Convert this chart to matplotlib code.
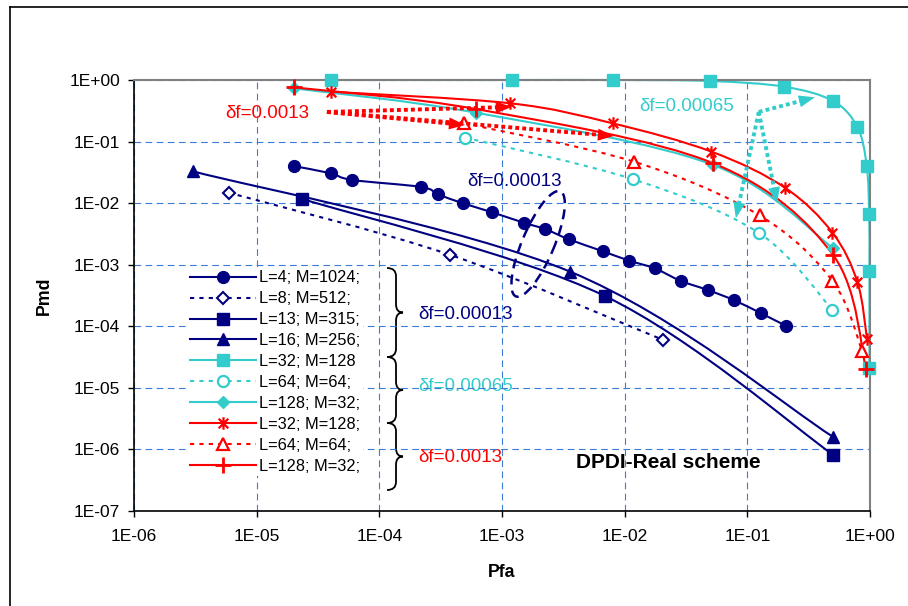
import matplotlib
matplotlib.use("Agg")
import matplotlib.pyplot as plt
import numpy as np
from matplotlib.lines import Line2D
from matplotlib.path import Path
from matplotlib.patches import PathPatch, Ellipse, Polygon
from matplotlib.ticker import FuncFormatter, NullLocator
from matplotlib.transforms import ScaledTranslation, IdentityTransform

plt.rcParams["font.family"] = ["Liberation Sans", "DejaVu Sans"]

NAVY = "#000080"
CYAN = "#33CCCC"
RED = "#FF0000"
GRID = "#3a7bd5"

# df = 0.00013
pfa_l4 = [2.0e-5, 4.0e-5, 6.0e-5, 2.2e-4, 3.0e-4, 4.8e-4, 8.3e-4, 1.5e-3, 2.26e-3,
          3.5e-3, 6.6e-3, 1.08e-2, 1.76e-2, 2.87e-2, 4.8e-2, 7.8e-2, 1.29e-1, 2.08e-1]
pmd_l4 = [4.0e-2, 3.06e-2, 2.38e-2, 1.83e-2, 1.39e-2, 9.96e-3, 7.11e-3, 4.82e-3, 3.77e-3,
          2.59e-3, 1.66e-3, 1.17e-3, 8.7e-4, 5.46e-4, 3.86e-4, 2.65e-4, 1.63e-4, 1.01e-4]
pfa_l8 = [5.9e-6, 3.8e-4, 2.06e-2]
pmd_l8 = [1.48e-2, 1.44e-3, 6.0e-5]
pfa_l13 = [2.33e-5, 6.9e-3, 0.5]
pmd_l13 = [1.18e-2, 3.1e-4, 8.2e-7]
pfa_l16 = [3.0e-6, 3.6e-3, 0.5]
pmd_l16 = [3.3e-2, 7.7e-4, 1.6e-6]

# df = 0.00065
pfa_c32 = [4.0e-5, 1.2e-3, 8.0e-3, 5.0e-2, 0.2, 0.5, 0.79, 0.94, 0.985, 0.99, 0.99]
pmd_c32 = [1.0, 1.0, 1.0, 0.963, 0.778, 0.456, 0.171, 0.0406, 6.7e-3, 7.8e-4, 2.07e-5]
pfa_c64 = [5.0e-4, 1.17e-2, 0.125, 0.494]
pmd_c64 = [0.116, 0.0244, 3.25e-3, 1.85e-4]
pfa_c128 = [2.0e-5, 6.1e-4, 5.26e-2, 0.5]
pmd_c128 = [0.733, 0.295, 0.0417, 1.86e-3]

# df = 0.0013
pfa_r32 = [4.0e-5, 1.16e-3, 7.96e-3, 5.1e-2, 0.202, 0.494, 0.79, 0.946]
pmd_r32 = [0.646, 0.419, 0.198, 0.0686, 0.0179, 3.32e-3, 5.2e-4, 6.2e-5]
pfa_r64 = [4.9e-4, 1.19e-2, 0.126, 0.494, 0.867]
pmd_r64 = [0.198, 0.0472, 6.3e-3, 5.46e-4, 3.9e-5]
pfa_r128 = [2.0e-5, 6.1e-4, 5.26e-2, 0.5, 0.93]
pmd_r128 = [0.76, 0.338, 0.0445, 1.44e-3, 2.0e-5]

labels = ["L=4; M=1024;", "L=8; M=512;", "L=13; M=315;", "L=16; M=256;",
          "L=32; M=128", "L=64; M=64;", "L=128; M=32;",
          "L=32; M=128;", "L=64; M=64;", "L=128; M=32;"]

# six-armed star (x plus vertical bar)
STAR = Path([(-1, -1), (1, 1), (-1, 1), (1, -1), (0, -1.3), (0, 1.3)],
            [Path.MOVETO, Path.LINETO] * 3)

DOTS = (0, (2, 2.5))

series = [
    (pfa_l4, pmd_l4, NAVY, "-", dict(marker="o", ms=8.5, mfc=NAVY, mec=NAVY)),
    (pfa_l8, pmd_l8, NAVY, DOTS, dict(marker="D", ms=6, mfc="white", mec=NAVY, mew=1.5)),
    (pfa_l13, pmd_l13, NAVY, "-", dict(marker="s", ms=8.5, mfc=NAVY, mec=NAVY)),
    (pfa_l16, pmd_l16, NAVY, "-", dict(marker="^", ms=9, mfc=NAVY, mec=NAVY)),
    (pfa_c32, pmd_c32, CYAN, "-", dict(marker="s", ms=9, mfc=CYAN, mec=CYAN)),
    (pfa_c64, pmd_c64, CYAN, DOTS, dict(marker="o", ms=8, mfc="white", mec=CYAN, mew=1.6)),
    (pfa_c128, pmd_c128, CYAN, "-", dict(marker="D", ms=6.5, mfc=CYAN, mec=CYAN)),
    (pfa_r32, pmd_r32, RED, "-", dict(marker=STAR, ms=9, mfc=RED, mec=RED, mew=1.6)),
    (pfa_r64, pmd_r64, RED, DOTS, dict(marker="^", ms=8.5, mfc="white", mec=RED, mew=1.6)),
    (pfa_r128, pmd_r128, RED, "-", dict(marker="+", ms=11, mfc=RED, mec=RED, mew=2)),
]


def smooth_path(xs, ys):
    """Cubic Bezier through the points (Catmull-Rom in log-log space)."""
    pts = np.column_stack([np.log10(xs), np.log10(ys)])
    n = len(pts)
    verts = [pts[0]]
    codes = [Path.MOVETO]
    for i in range(n - 1):
        p0 = pts[i - 1] if i > 0 else pts[i]
        p1, p2 = pts[i], pts[i + 1]
        p3 = pts[i + 2] if i + 2 < n else pts[i + 1]
        verts += [p1 + (p2 - p0) / 6.0, p2 - (p3 - p1) / 6.0, p2]
        codes += [Path.CURVE4] * 3
    return Path(10.0 ** np.array(verts), codes)


def brace(ax, y_top, y_bot, x0=0.3438, xm=0.356, x1=0.3655, r=0.019):
    ym = 0.5 * (y_top + y_bot)
    verts = [(x0, y_top), (xm, y_top), (xm, y_top - r),
             (xm, ym + r), (xm, ym), (x1, ym),
             (xm, ym), (xm, ym - r),
             (xm, y_bot + r), (xm, y_bot), (x0, y_bot)]
    codes = [Path.MOVETO, Path.CURVE3, Path.CURVE3,
             Path.LINETO, Path.CURVE3, Path.CURVE3,
             Path.CURVE3, Path.CURVE3,
             Path.LINETO, Path.CURVE3, Path.CURVE3]
    ax.add_patch(PathPatch(Path(verts, codes), fill=False, edgecolor="black",
                           lw=1.3, transform=ax.transAxes, zorder=1))


def dotted_arrow(ax, start, end, color, head_len=16, head_half=6):
    # dotted shaft in data space, solid head built in pixel space
    p0 = ax.transData.transform(start)
    p1 = ax.transData.transform(end)
    d = (p1 - p0) / np.hypot(*(p1 - p0))
    n = np.array([-d[1], d[0]])
    base = p1 - d * head_len
    bx, by = ax.transData.inverted().transform(base + d * 2)
    ax.plot([start[0], bx], [start[1], by], color=color, lw=2.8,
            linestyle=(0, (1, 0.8)), solid_capstyle="butt", zorder=4)
    ax.add_patch(Polygon([p1, base + n * head_half, base - n * head_half], closed=True,
                         facecolor=color, edgecolor="none",
                         transform=IdentityTransform(), zorder=4))


fig = plt.figure(figsize=(9.08, 6.06), dpi=100)
ax = fig.add_axes([134 / 908, 1 - 511 / 606, 736 / 908, 431 / 606])
ax.set_xscale("log")
ax.set_yscale("log")
ax.set_xlim(1e-6, 1.0)
ax.set_ylim(1e-7, 1.0)

handles = []
for (xs, ys, color, ls, mk), label in zip(series, labels):
    ax.add_patch(PathPatch(smooth_path(xs, ys), fill=False, edgecolor=color,
                           lw=1.5, linestyle=ls, zorder=2, clip_on=(color != CYAN or ls != "-")))
    ax.plot(xs, ys, linestyle="none", zorder=3, clip_on=False, **mk)
    handles.append(Line2D([], [], color=color, lw=1.5, linestyle=ls, **mk))

ax.set_xticks([10.0 ** e for e in range(-6, 1)])
ax.set_yticks([10.0 ** e for e in range(-7, 1)])
ax.xaxis.set_minor_locator(NullLocator())
ax.yaxis.set_minor_locator(NullLocator())
fmt = FuncFormatter(lambda v, pos: f"1E{int(round(np.log10(v))):+03d}")
ax.xaxis.set_major_formatter(fmt)
ax.yaxis.set_major_formatter(fmt)
ax.tick_params(axis="both", direction="out", length=4, width=1, labelsize=12.5)
ax.tick_params(axis="x", pad=9)
ax.tick_params(axis="y", pad=6)

ax.set_axisbelow("line")
ax.grid(True, which="major", color=GRID, linestyle=(0, (6, 4)), lw=0.8)

for side in ("left", "bottom"):
    ax.spines[side].set_color("black")
    ax.spines[side].set_linewidth(1.2)
for side in ("top", "right"):
    ax.spines[side].set_color("#808080")
    ax.spines[side].set_linewidth(1.5)

ax.set_xlabel("Pfa", fontsize=12.8, fontweight="bold")
ax.set_ylabel("Pmd", fontsize=12.8, fontweight="bold")
ax.xaxis.set_label_coords(0.5, -0.122)
ax.yaxis.set_label_coords(-0.11, 0.5)

leg = ax.legend(handles, labels, loc="upper left", bbox_to_anchor=(0.0734, 0.5638),
                borderaxespad=0, borderpad=0.15, handlelength=4, handletextpad=0.2,
                labelspacing=0.36, fontsize=11.8, numpoints=1, fancybox=False,
                frameon=True, facecolor="white", edgecolor="none", framealpha=1)

# braces grouping the legend entries by frequency offset
brace(ax, 0.5638, 0.3573)
brace(ax, 0.3573, 0.2042)
brace(ax, 0.2042, 0.0487)

txt = dict(fontsize=13.5, zorder=1)
ax.text(2.07e-4, 1.53e-4, "δf=0.00013", color=NAVY, ha="left", va="center", **txt)
ax.text(2.07e-4, 1.05e-5, "δf=0.00065", color=CYAN, ha="left", va="center", **txt)
ax.text(2.07e-4, 7.5e-7, "δf=0.0013", color=RED, ha="left", va="center", **txt)
ax.text(1.22e-5, 0.291, "δf=0.0013", color=RED, ha="center", va="center", **txt)
ax.text(0.0318, 0.365, "δf=0.00065", color=CYAN, ha="center", va="center", **txt)
ax.text(1.26e-3, 0.0221, "δf=0.00013", color=NAVY, ha="center", va="center", **txt)
ax.text(4.0e-3, 6.1e-7, "DPDI-Real scheme", fontsize=15, fontweight="bold",
        ha="left", va="center", zorder=4)

# dashed ellipse around the df=0.00013 curves
ell = Ellipse((0, 0), width=1.14, height=0.32, angle=67, fill=False,
              edgecolor=NAVY, lw=1.8, linestyle=(0, (4, 2.5)), zorder=4,
              transform=fig.dpi_scale_trans + ScaledTranslation(1.97e-3, 2.18e-3, ax.transData))
ax.add_patch(ell)

for end in [(1.2e-3, 0.365), (4.99e-4, 0.186), (8.17e-3, 0.123)]:
    dotted_arrow(ax, (3.74e-5, 0.303), end, RED)
for end in [(0.355, 0.524), (0.0806, 5.69e-3), (0.175, 9.96e-3)]:
    dotted_arrow(ax, (0.124, 0.303), end, CYAN)

# outer chart frame
fig.add_artist(Line2D([10 / 908, 1.0], [1 - 7 / 606] * 2, transform=fig.transFigure,
                      color="black", lw=1.2))
fig.add_artist(Line2D([10 / 908] * 2, [0.0, 1 - 7 / 606], transform=fig.transFigure,
                      color="black", lw=1.2))

fig.savefig("out.png", dpi=100)
